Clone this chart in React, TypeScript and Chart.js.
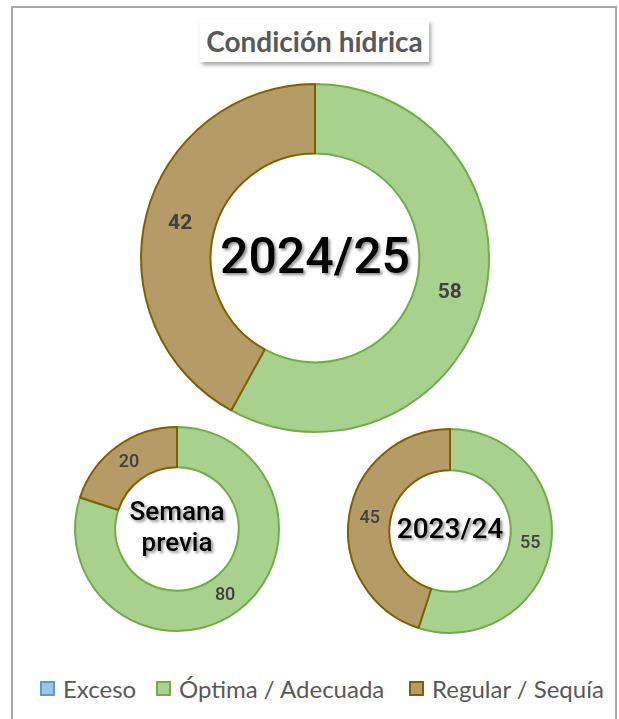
import React, { useEffect, useRef } from "react";
import { Chart, registerables } from "chart.js";

Chart.register(...registerables);

// ---- data ----
const categories = ["Exceso", "Óptima / Adecuada", "Regular / Sequía"];
const season2024 = [0, 58, 42];
const previousWeek = [0, 80, 20];
const season2023 = [0, 55, 45];
const titleText = "Condición hídrica";
const centerCurrent = ["2024/25"];
const centerPrevious = ["Semana", "previa"];
const centerLast = ["2023/24"];

// ---- styles ----
const fillColors = ["#9DC3E6", "#A9D18E", "#B59B65"];
const borderColors = ["#5B9BD5", "#70AD47", "#7F6000"];

const ringLabels = {
  id: "ringLabels",
  afterDatasetsDraw(chart: any, _args: any, opts: any) {
    const ctx = chart.ctx;
    const meta = chart.getDatasetMeta(0);
    const data = chart.data.datasets[0].data as number[];
    ctx.save();
    ctx.textAlign = "center";
    ctx.textBaseline = "middle";
    ctx.fillStyle = "#404040";
    ctx.font = opts.labelFont;
    meta.data.forEach((el: any, i: number) => {
      if (data[i] > 0) {
        const p = el.tooltipPosition();
        ctx.fillText(String(data[i]), p.x, p.y);
      }
    });
    const cx = meta.data[0].x;
    const cy = meta.data[0].y;
    ctx.font = opts.centerFont;
    ctx.fillStyle = "#000000";
    ctx.shadowColor = "rgba(0,0,0,0.45)";
    ctx.shadowBlur = 3;
    ctx.shadowOffsetX = 2;
    ctx.shadowOffsetY = 2;
    const lines: string[] = opts.lines;
    const lh: number = opts.lineHeight;
    lines.forEach((t, i) => {
      const y = cy + (i - (lines.length - 1) / 2) * lh + (opts.dy || 0);
      ctx.fillText(t, cx, y);
    });
    ctx.restore();
  },
};

type DonutProps = {
  values: number[];
  size: number;
  left: number;
  top: number;
  radius: number;
  cutout: string;
  lines: string[];
  centerFont: string;
  labelFont: string;
  lineHeight: number;
  dy?: number;
};

function Donut(p: DonutProps) {
  const ref = useRef<HTMLCanvasElement>(null);
  useEffect(() => {
    const chart = new Chart(ref.current as HTMLCanvasElement, {
      type: "doughnut",
      data: {
        labels: categories,
        datasets: [
          {
            data: p.values,
            backgroundColor: fillColors,
            borderColor: borderColors,
            borderWidth: p.values.map((v) => (v > 0 ? 2 : 0)),
          },
        ],
      },
      options: {
        responsive: false,
        animation: false,
        events: [],
        radius: p.radius,
        cutout: p.cutout,
        layout: { padding: 0 },
        plugins: {
          legend: { display: false },
          tooltip: { enabled: false },
          ringLabels: {
            labelFont: p.labelFont,
            centerFont: p.centerFont,
            lines: p.lines,
            lineHeight: p.lineHeight,
            dy: p.dy,
          },
        },
      } as any,
      plugins: [ringLabels as any],
    });
    return () => chart.destroy();
  }, []);
  return (
    <canvas
      ref={ref}
      width={p.size}
      height={p.size}
      style={{ position: "absolute", left: p.left, top: p.top, width: p.size, height: p.size }}
    />
  );
}

const legendLefts = [40, 156, 409];

export default function App() {
  return (
    <div
      style={{
        position: "absolute",
        left: 0,
        top: 0,
        width: 619,
        height: 719,
        overflow: "hidden",
        background: "#ffffff",
        fontFamily: "Lato, 'Open Sans', sans-serif",
      }}
    >
      <div
        style={{
          position: "absolute",
          left: 11,
          top: 6,
          width: 602,
          height: 740,
          border: "2px solid #A9A9A9",
        }}
      />
      <div
        style={{
          position: "absolute",
          left: 200,
          top: 20,
          width: 229,
          height: 42,
          background: "#ffffff",
          boxShadow: "2px 3px 4px rgba(0,0,0,0.35)",
          color: "#595959",
          fontWeight: 700,
          fontSize: 28,
          lineHeight: "42px",
          textAlign: "center",
          whiteSpace: "nowrap",
        }}
      >
        {titleText}
      </div>
      <Donut
        values={season2024}
        size={400}
        left={115}
        top={58}
        radius={174}
        cutout="60%"
        lines={centerCurrent}
        centerFont="500 50px Roboto"
        labelFont="bold 21px Roboto"
        lineHeight={50}
        dy={2}
      />
      <Donut
        values={previousWeek}
        size={240}
        left={57}
        top={409}
        radius={102}
        cutout="60.5%"
        lines={centerPrevious}
        centerFont="500 26px Roboto"
        labelFont="500 18px Roboto"
        lineHeight={31}
      />
      <Donut
        values={season2023}
        size={240}
        left={330}
        top={411}
        radius={102}
        cutout="59.5%"
        lines={centerLast}
        centerFont="500 28px Roboto"
        labelFont="500 18px Roboto"
        lineHeight={28}
      />
      {categories.map((c, i) => (
        <div
          key={c}
          style={{
            position: "absolute",
            left: legendLefts[i],
            top: 673,
            height: 30,
            display: "flex",
            alignItems: "center",
            whiteSpace: "nowrap",
            color: "#595959",
            fontSize: 24,
          }}
        >
          <span
            style={{
              display: "inline-block",
              boxSizing: "border-box",
              width: 15,
              height: 15,
              background: fillColors[i],
              border: `2px solid ${borderColors[i]}`,
              marginRight: 8,
            }}
          />
          <span>{c}</span>
        </div>
      ))}
    </div>
  );
}
